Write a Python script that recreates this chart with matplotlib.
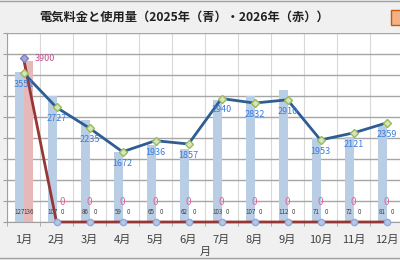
import matplotlib
matplotlib.use("Agg")
import matplotlib.pyplot as plt
import numpy as np
from matplotlib.patches import Rectangle

plt.rcParams['font.family'] = ['Noto Sans CJK JP', 'DejaVu Sans']

months = ["1月", "2月", "3月", "4月", "5月", "6月", "7月", "8月", "9月", "10月", "11月", "12月"]
usage_2025 = [127, 107, 86, 59, 65, 62, 103, 107, 112, 71, 72, 81]
usage_2026 = [136, 0, 0, 0, 0, 0, 0, 0, 0, 0, 0, 0]
fee_2025 = [3551, 2727, 2235, 1672, 1936, 1857, 2940, 2832, 2910, 1953, 2121, 2359]
fee_2026 = [3900, 0, 0, 0, 0, 0, 0, 0, 0, 0, 0, 0]

fig = plt.figure(figsize=(4.0, 2.6), dpi=100)
fig.patch.set_facecolor('#f0f0f0')

ax = fig.add_axes([7/400, 1-222/260, 396/400, 189/260])
ax.set_facecolor('white')
x = np.arange(len(months))
w = 0.28
ax.bar(x - 0.12, usage_2025, width=w, color='#b9cde5', zorder=2)
ax.bar(x + 0.15, usage_2026, width=w, color='#e6b9b8', zorder=2)
ax.set_ylim(0, 160)
ax.set_xlim(-0.5, 11.5)
ax.set_yticks(np.linspace(0, 160, 10))
ax.set_yticklabels([])
ax.set_xticks(x)
ax.set_xticklabels(months, fontsize=8, color='#404040')
ax.set_xticks(np.arange(-0.5, 12, 1), minor=True)
ax.tick_params(axis='x', which='major', length=0, pad=9)
ax.tick_params(axis='x', which='minor', length=3, color='#a0a0a0')
ax.tick_params(axis='y', length=3, color='#a0a0a0')
ax.grid(axis='y', color='#a6a6a6', linewidth=1.0, zorder=0)
ax.grid(axis='x', which='minor', color='#d9d9d9', linewidth=0.8, zorder=0)
for s in ['top', 'right']:
    ax.spines[s].set_visible(False)
ax.spines['left'].set_color('#a0a0a0')
ax.spines['bottom'].set_color('#a0a0a0')
ax.set_xlabel("月", fontsize=8, color='#404040', labelpad=2)

for xi, v in zip(x, usage_2025):
    ax.text(xi - 0.13, 5, str(v), ha='center', va='bottom', fontsize=4.5, color='#404040', zorder=3)
for xi, v in zip(x, usage_2026):
    ax.text(xi + 0.17, 5, str(v), ha='center', va='bottom', fontsize=4.5, color='#404040', zorder=3)

ax2 = ax.twinx()
ax2.set_ylim(0, 4500)
ax2.set_yticks([])
for s in ax2.spines.values():
    s.set_visible(False)
ax2.plot(x, fee_2026, color='#953735', linewidth=2.0, zorder=3, clip_on=False)
ax2.plot(x[1:], fee_2026[1:], linestyle='none', marker='o', markersize=4.5,
         markerfacecolor='#b4c7e7', markeredgecolor='#8ea9db', zorder=4, clip_on=False)
ax2.plot(x[:1], fee_2026[:1], linestyle='none', marker='D', markersize=4.5,
         markerfacecolor='#a5a5d8', markeredgecolor='#7f7fbf', zorder=4)
ax2.plot(x, fee_2025, color='#2e5d94', linewidth=2.0, marker='D', markersize=4.5,
         markerfacecolor='#d7e4bd', markeredgecolor='#9bbb59', zorder=5)

for xi, v in zip(x, fee_2025):
    ax2.annotate(str(v), (xi, v), xytext=(0, -5), textcoords='offset points',
                 ha='center', va='top', fontsize=6.5, color='#3b7ddd', zorder=6)
ax2.annotate(str(fee_2026[0]), (x[0], fee_2026[0]), xytext=(8, 0), textcoords='offset points',
             ha='left', va='center', fontsize=6.5, color='#c0508a', zorder=6)
for xi, v in zip(x[1:], fee_2026[1:]):
    dx = 4 if xi == 1 else 0
    ax2.annotate(str(v), (xi, v), xytext=(dx, 10.5), textcoords='offset points',
                 ha='center', va='bottom', fontsize=7, color='#e0649c', zorder=6)

fig.text(0.46, 1-17/260, "電気料金と使用量（2025年（青）・2026年（赤））", ha='center', va='center',
         fontsize=8.8, fontweight='bold', color='#202020')

fig.add_artist(Rectangle((391/400, 1-25/260), 12/400, 15/260, transform=fig.transFigure,
                         facecolor='#f4b183', edgecolor='#c55a11', linewidth=1))
fig.add_artist(plt.Line2D([0, 1], [0.998, 0.998], transform=fig.transFigure, color='#a0a0a0', linewidth=1))
fig.add_artist(plt.Line2D([0, 1], [1-258/260, 1-258/260], transform=fig.transFigure, color='#a0a0a0', linewidth=1))

fig.savefig("out.png", dpi=100, facecolor=fig.get_facecolor())
